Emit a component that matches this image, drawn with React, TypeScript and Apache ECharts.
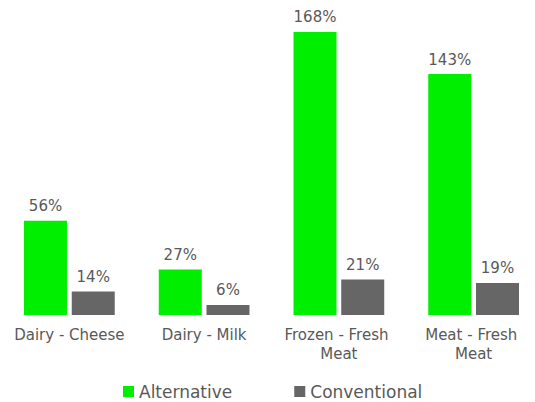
import React, { useEffect, useRef } from "react";
import * as echarts from "echarts";

const categories = ["Dairy - Cheese", "Dairy - Milk", "Frozen - Fresh Meat", "Meat - Fresh Meat"];
const alternative = [56, 27, 168, 143];
const conventional = [14, 6, 21, 19];
const seriesNames = ["Alternative", "Conventional"];

const FONT = "DejaVu Sans";
const TEXT = "#595959";

export default function App() {
  const ref = useRef<HTMLDivElement>(null);
  useEffect(() => {
    const chart = echarts.init(ref.current!, null, { renderer: "svg" });
    const label = {
      show: true,
      position: "top",
      distance: 7,
      formatter: "{c}%",
      color: TEXT,
      fontFamily: FONT,
      fontSize: 15,
    };
    chart.setOption({
      animation: false,
      grid: { left: 2, width: 539, top: 28.6, height: 286.4, outerBoundsMode: "none", containLabel: false },
      legend: {
        top: 378,
        left: 118,
        itemWidth: 11,
        itemHeight: 11,
        itemGap: 62,
        icon: "rect",
        textStyle: { color: TEXT, fontFamily: FONT, fontSize: 17 },
        data: seriesNames,
      },
      xAxis: {
        type: "category",
        data: categories,
        axisLine: { show: false },
        axisTick: { show: false },
        axisLabel: {
          color: TEXT,
          fontFamily: FONT,
          fontSize: 15,
          lineHeight: 19,
          margin: 10,
          width: 120,
          overflow: "break",
          interval: 0,
        },
      },
      yAxis: {
        type: "value",
        min: 0,
        max: 170,
        show: false,
        splitLine: { show: false },
      },
      series: [
        {
          name: seriesNames[0],
          type: "bar",
          data: alternative,
          barWidth: 43,
          barGap: "11%",
          itemStyle: { color: "#00EE00" },
          label,
        },
        {
          name: seriesNames[1],
          type: "bar",
          data: conventional,
          barWidth: 43,
          barGap: "11%",
          itemStyle: { color: "#666666" },
          label,
        },
      ],
    });
    return () => chart.dispose();
  }, []);
  return (
    <div
      ref={ref}
      style={{ position: "fixed", left: 0, top: 0, width: 535, height: 402, background: "#fff" }}
    />
  );
}
